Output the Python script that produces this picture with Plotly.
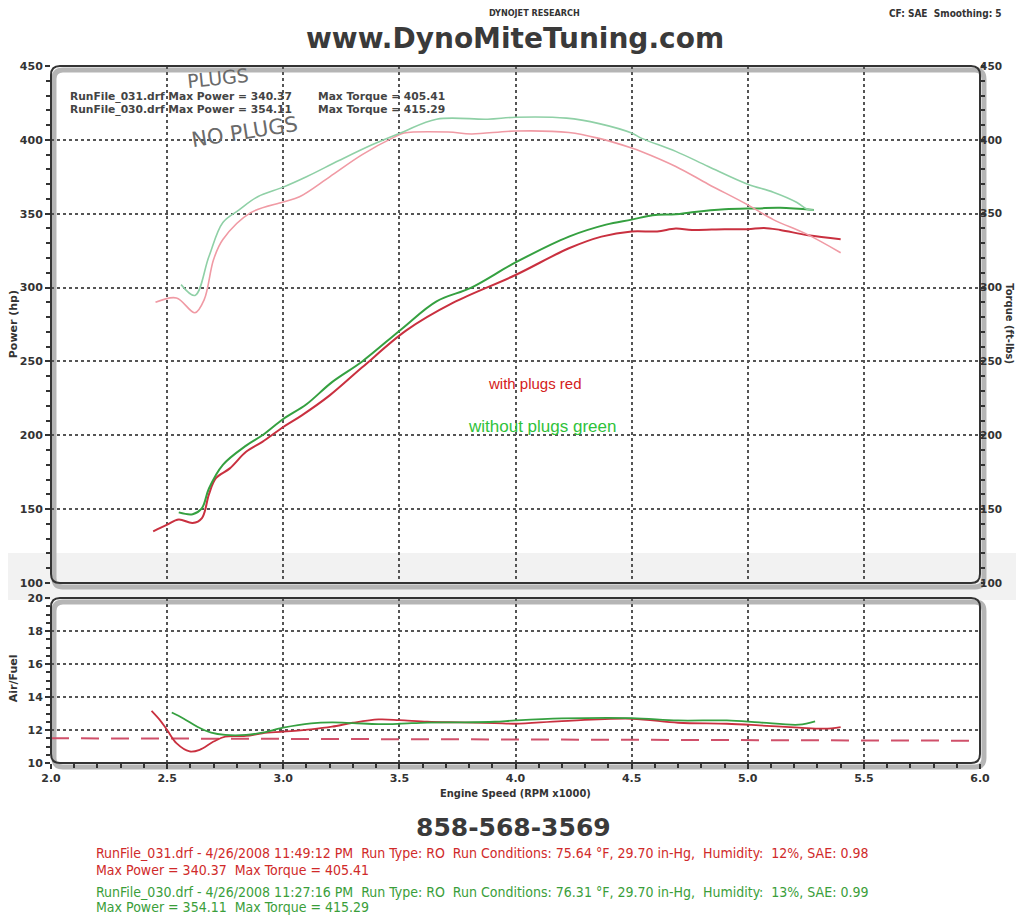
import plotly.graph_objects as go

# ---------------- data ----------------
# Power (hp) - RunFile_031 (with plugs, red)
red_pw_rpm = [2.44, 2.50, 2.55, 2.61, 2.65, 2.68, 2.71, 2.77, 2.84, 2.91, 3.00, 3.08, 3.20, 3.34, 3.53,
              3.73, 4.00, 4.23, 4.37, 4.50, 4.61, 4.69, 4.76, 4.90, 5.00, 5.07, 5.14, 5.26, 5.40]
red_pw = [135, 139.5, 143, 140.6, 144, 160, 171, 177.6, 188.8, 195.5, 205.6, 213.5, 227, 246, 271,
          289.6, 308.5, 326.6, 334.5, 338, 338, 340, 339, 339.5, 339.5, 340.4, 339, 335.4, 332.7]
# Power (hp) - RunFile_030 (without plugs, green)
grn_pw_rpm = [2.55, 2.61, 2.65, 2.68, 2.74, 2.84, 2.91, 3.00, 3.10, 3.21, 3.34, 3.51, 3.66, 3.81, 4.00,
              4.23, 4.39, 4.50, 4.59, 4.69, 4.76, 4.90, 5.04, 5.14, 5.285]
grn_pw = [147.8, 146.6, 150.7, 164, 180, 193, 200, 211, 221, 236, 250, 272, 290.7, 300, 317,
          334.5, 342.6, 346, 349, 349.6, 351, 353, 353.6, 354, 352.5]
# Torque (ft-lbs)
red_tq_rpm = [2.45, 2.54, 2.62, 2.66, 2.70, 2.74, 2.86, 3.00, 3.07, 3.20, 3.34, 3.48, 3.52, 3.71, 3.81,
              4.00, 4.23, 4.36, 4.50, 4.544, 4.69, 4.83, 5.00, 5.11, 5.256, 5.40]
red_tq = [290, 293, 283, 292, 319, 332.5, 350.7, 358, 361.5, 375, 390, 402, 404.6, 405.3, 404,
          406, 405, 401, 394.5, 392, 382, 370, 356, 346, 336, 323.6]
grn_tq_rpm = [2.56, 2.62, 2.68, 2.74, 2.81, 2.89, 3.00, 3.10, 3.24, 3.38, 3.51, 3.66, 3.88, 4.00, 4.22,
              4.36, 4.50, 4.544, 4.69, 4.83, 5.00, 5.11, 5.21, 5.256, 5.285]
grn_tq = [302, 294.7, 321, 344, 352.6, 361.5, 368, 375, 386, 396.5, 405, 414, 414, 415.3, 414.7,
          411, 404.6, 401, 392.2, 382, 370, 364.6, 357.8, 353, 352.5]
# Air/Fuel
red_af_rpm = [2.433, 2.469, 2.50, 2.54, 2.597, 2.64, 2.70, 2.75, 2.84, 2.91, 3.00, 3.12, 3.21, 3.30,
              3.41, 3.50, 3.62, 3.76, 3.91, 4.00, 4.20, 4.50, 4.70, 4.91, 5.05, 5.22, 5.33, 5.40]
red_af = [13.16, 12.6, 12.0, 11.2, 10.7, 10.8, 11.3, 11.6, 11.64, 11.8, 11.9, 12.04, 12.2, 12.44,
          12.64, 12.6, 12.5, 12.46, 12.42, 12.38, 12.54, 12.68, 12.44, 12.38, 12.28, 12.14, 12.08, 12.18]
grn_af_rpm = [2.52, 2.57, 2.63, 2.69, 2.75, 2.84, 2.91, 3.00, 3.12, 3.21, 3.30, 3.41, 3.50, 3.62,
              3.76, 3.91, 4.00, 4.20, 4.50, 4.70, 4.91, 5.05, 5.22, 5.29]
grn_af = [13.06, 12.7, 12.2, 11.84, 11.7, 11.7, 11.84, 12.14, 12.4, 12.46, 12.42, 12.36, 12.38, 12.45,
          12.46, 12.5, 12.58, 12.7, 12.72, 12.58, 12.58, 12.46, 12.32, 12.52]
target_af_rpm = [2.0, 6.0]
target_af = [11.5, 11.35]

x_ticks = [2.0, 2.5, 3.0, 3.5, 4.0, 4.5, 5.0, 5.5, 6.0]
pw_ticks = [100, 150, 200, 250, 300, 350, 400, 450]
af_ticks = [10, 12, 14, 16, 18, 20]

header_left = "DYNOJET RESEARCH"
header_right = "CF: SAE  Smoothing: 5"
site = "www.DynoMiteTuning.com"
phone = "858-568-3569"
run_lines = [("RunFile_031.drf Max Power = 340.37", "Max Torque = 405.41"),
             ("RunFile_030.drf Max Power = 354.11", "Max Torque = 415.29")]
foot_red = ["RunFile_031.drf - 4/26/2008 11:49:12 PM  Run Type: RO  Run Conditions: 75.64 °F, 29.70 in-Hg,  Humidity:  12%, SAE: 0.98",
            "Max Power = 340.37  Max Torque = 405.41"]
foot_grn = ["RunFile_030.drf - 4/26/2008 11:27:16 PM  Run Type: RO  Run Conditions: 76.31 °F, 29.70 in-Hg,  Humidity:  13%, SAE: 0.99",
            "Max Power = 354.11  Max Torque = 415.29"]

# ---------------- styling ----------------
RED = "#c9303f"
GRN = "#35a040"
RED_T = "#f09aa4"
GRN_T = "#8fd0a6"
DARK = "#333333"
OFF = 8                      # page body margin of the html page
W, H = 1024 - OFF, 915 - OFF
L, T = 45 - OFF, 66 - OFF
R = W - (980 - OFF)
B = H - (763 - OFF)
PW, PH = W - L - R, H - T - B


def X(px):   # page pixel -> paper
    return (px - OFF - L) / PW


def Y(py):
    return (H - B - (py - OFF)) / PH


fig = go.Figure()
fig.add_trace(go.Scatter(x=red_tq_rpm, y=red_tq, mode="lines", line=dict(color=RED_T, width=1.6, shape="spline"),
                         xaxis="x", yaxis="y2", showlegend=False))
fig.add_trace(go.Scatter(x=grn_tq_rpm, y=grn_tq, mode="lines", line=dict(color=GRN_T, width=1.6, shape="spline"),
                         xaxis="x", yaxis="y2", showlegend=False))
fig.add_trace(go.Scatter(x=red_pw_rpm, y=red_pw, mode="lines", line=dict(color=RED, width=2, shape="spline"),
                         xaxis="x", yaxis="y", showlegend=False))
fig.add_trace(go.Scatter(x=grn_pw_rpm, y=grn_pw, mode="lines", line=dict(color=GRN, width=2, shape="spline"),
                         xaxis="x", yaxis="y", showlegend=False))
fig.add_trace(go.Scatter(x=target_af_rpm, y=target_af, mode="lines", line=dict(color="#d0506a", width=2, dash="18px,12px"),
                         xaxis="x2", yaxis="y3", showlegend=False))
fig.add_trace(go.Scatter(x=red_af_rpm, y=red_af, mode="lines", line=dict(color=RED, width=1.8, shape="spline"),
                         xaxis="x2", yaxis="y3", showlegend=False))
fig.add_trace(go.Scatter(x=grn_af_rpm, y=grn_af, mode="lines", line=dict(color=GRN, width=1.8, shape="spline"),
                         xaxis="x2", yaxis="y3", showlegend=False))

tickfont = dict(family="DejaVu Sans", size=11, color=DARK, weight="bold")
grid = dict(showgrid=True, gridcolor="#555555", griddash="dot", gridwidth=1.5, zeroline=False, showline=False)

fig.update_layout(
    width=W, height=H,
    margin=dict(l=L, r=R, t=T, b=B, pad=0),
    paper_bgcolor="white", plot_bgcolor="rgba(0,0,0,0)",
    xaxis=dict(domain=[0, 1], anchor="y", range=[2, 6], tickvals=x_ticks, showticklabels=False, ticks="", **grid),
    yaxis=dict(domain=[Y(583), 1], anchor="x", range=[100, 450], tickvals=pw_ticks, ticks="outside", ticklen=5,
               tickwidth=1.5, tickcolor=DARK, tickfont=tickfont,
               minor=dict(dtick=10, ticks="outside", ticklen=4, tickcolor=DARK, showgrid=False), **grid),
    yaxis2=dict(overlaying="y", side="right", anchor="x", range=[100, 450], tickvals=pw_ticks, ticks="outside",
                ticklen=4, tickwidth=1.5, tickcolor=DARK, tickfont=dict(tickfont, size=10.5), showgrid=False,
                zeroline=False, ticklabelstandoff=-7,
                minor=dict(dtick=10, ticks="outside", ticklen=4, tickcolor=DARK)),
    xaxis2=dict(domain=[0, 1], anchor="y3", range=[2, 6], tickvals=x_ticks, ticktext=[f"{v:.1f}" for v in x_ticks],
                ticks="outside", ticklen=5, tickwidth=1.5, tickcolor=DARK, tickfont=tickfont,
                minor=dict(dtick=0.1, ticks="outside", ticklen=4, tickcolor=DARK, showgrid=False), **grid),
    yaxis3=dict(domain=[0, Y(598)], anchor="x2", range=[10, 20], tickvals=af_ticks, ticks="outside", ticklen=5,
                tickwidth=1.5, tickcolor=DARK, tickfont=tickfont,
                minor=dict(dtick=0.5, ticks="outside", ticklen=4, tickcolor=DARK, showgrid=False), **grid),
)


def rrect(x0, y0, x1, y1, r):
    return (f"M {X(x0 + r)},{Y(y0)} L {X(x1 - r)},{Y(y0)} Q {X(x1)},{Y(y0)} {X(x1)},{Y(y0 + r)} "
            f"L {X(x1)},{Y(y1 - r)} Q {X(x1)},{Y(y1)} {X(x1 - r)},{Y(y1)} L {X(x0 + r)},{Y(y1)} "
            f"Q {X(x0)},{Y(y1)} {X(x0)},{Y(y1 - r)} L {X(x0)},{Y(y0 + r)} Q {X(x0)},{Y(y0)} {X(x0 + r)},{Y(y0)} Z")


shapes = []
# scanner shading band
shapes.append(dict(type="rect", xref="paper", yref="paper", x0=X(0), x1=X(1024), y0=Y(600), y1=Y(553),
                   fillcolor="rgba(0,0,0,0.05)", line=dict(width=0), layer="below"))
for (y0, y1) in [(66, 583), (598, 763)]:
    shapes.append(dict(type="path", xref="paper", yref="paper", path=rrect(48, y0 + 4, 984, y1 + 4, 9),
                       line=dict(color="#b5b5b5", width=5), layer="below"))
    shapes.append(dict(type="path", xref="paper", yref="paper", path=rrect(45, y0, 980, y1, 9),
                       line=dict(color=DARK, width=2), layer="above"))
fig.update_layout(shapes=shapes)

ann = []


def txt(px, py, s, size=11, color=DARK, bold=False, xanchor="left", family="DejaVu Sans", angle=0, yanchor="middle"):
    ann.append(dict(x=X(px), y=Y(py), xref="paper", yref="paper", text=s, showarrow=False, xanchor=xanchor,
                    yanchor=yanchor, textangle=angle,
                    font=dict(family=family, size=size, color=color, weight="bold" if bold else "normal")))


txt(532, 13, header_left, size=9, bold=True, xanchor="center", family="DejaVu Sans Condensed")
txt(886, 13, header_right, size=10, bold=True, family="DejaVu Sans Condensed")
txt(512, 39, site, size=28, bold=True, xanchor="center", color="#3a3a3a")
txt(62, 97, run_lines[0][0], size=10.7, bold=True, color="#444")
txt(312, 97, run_lines[0][1], size=10.7, bold=True, color="#444")
txt(62, 110, run_lines[1][0], size=10.7, bold=True, color="#444")
txt(312, 110, run_lines[1][1], size=10.7, bold=True, color="#444")
txt(213, 78, "PLUGS", size=19, color="#6a6a6a", xanchor="center", angle=-6)
txt(240, 132, "NO PLUGS", size=21, color="#6a6a6a", xanchor="center", angle=-9)
txt(532, 383, "with plugs red", size=15, color="#d42020", xanchor="center", family="Liberation Sans")
txt(539, 426, "without plugs green", size=17, color="#2fc23a", xanchor="center", family="Liberation Sans")
txt(7, 324, "Power (hp)", size=11, bold=True, xanchor="center", angle=-90)
txt(1010, 324, "Torque (ft-lbs)", size=10, bold=True, xanchor="center", angle=90)
txt(7, 678, "Air/Fuel", size=11, bold=True, xanchor="center", angle=-90)
txt(512, 793, "Engine Speed (RPM x1000)", size=11, bold=True, xanchor="center", family="DejaVu Sans Condensed")
txt(510, 827, phone, size=25, bold=True, xanchor="center", color="#3a3a3a")
nar = "Liberation Sans Narrow, DejaVu Sans Condensed, sans-serif"
txt(88, 853, foot_red[0], size=14, color="#d02a2a", family=nar)
txt(88, 870, foot_red[1], size=14, color="#d02a2a", family=nar)
txt(88, 892, foot_grn[0], size=14, color="#3a9e3a", family=nar)
txt(88, 907, foot_grn[1], size=14, color="#3a9e3a", family=nar)
fig.update_layout(annotations=ann)

fig.write_html("out.html")
